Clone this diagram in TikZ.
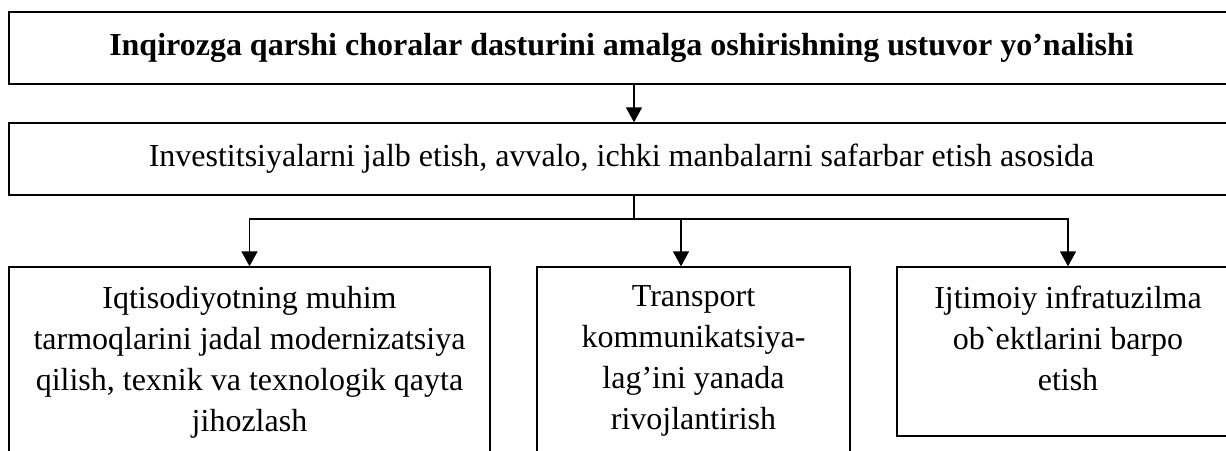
\documentclass[tikz,border=0pt]{standalone}
\usepackage{fontspec}
\setmainfont{Liberation Serif}
\usetikzlibrary{positioning,arrows.meta,fit}

\begin{document}
\begin{tikzpicture}[x=0.5pt,y=-0.5pt]
 \tikzset{box/.style={draw,line width=0.7pt,inner sep=0pt},
   txt/.style={align=center,inner sep=0pt,anchor=north,font=\fontsize{16}{20.5}\selectfont},
   arrow/.style={line width=0.8pt,-{Triangle[width=8pt,length=7.5pt]}}}
 \useasboundingbox (0,0) rectangle (1226,450);
 \clip (0,0) rectangle (1226,450);

 \node[box,fit={(9,12) (1234,84)}] (prio) {};
 \node[box,fit={(9,123) (1234,195)}] (invest) {};
 \node[txt,anchor=center,font=\bfseries\fontsize{16}{20.5}\selectfont] (priot) at (prio.center) {Inqirozga qarshi choralar dasturini amalga oshirishning ustuvor yo’nalishi};
 \node[txt,anchor=center] (investt) at (invest.center) {Investitsiyalarni jalb etish, avvalo, ichki manbalarni safarbar etish asosida};

 \node[box,fit={(9,267) (490,480)}] (modern) {};
 \node[box,fit={(537,267) (850,480)}] (transp) {};
 \node[box,fit={(897,267) (1239,436)}] (social) {};
 \node[txt,yshift=-9.6pt] (modernt) at (modern.north) {Iqtisodiyotning muhim\\tarmoqlarini jadal modernizatsiya\\qilish, texnik va texnologik qayta\\jihozlash};
 \node[txt,yshift=-9.6pt] (transpt) at (transp.north) {Transport\\kommunikatsiya-\\lag’ini yanada\\rivojlantirish};
 \node[txt,yshift=-9.6pt] (socialt) at (social.north) {Ijtimoiy infratuzilma\\ob\textasciigrave ektlarini barpo\\etish};

 \coordinate (bus) at (634,219);
 \coordinate (drop) at (681,219);
 \draw[arrow] (prio.south -| bus) -- (invest.north -| bus);
 \draw[line width=0.8pt] (invest.south -| bus) -- (bus);
 \draw[arrow] (bus) -| (modern.north);
 \draw[arrow] (bus) -| (social.north);
 \draw[arrow] (drop) -- (transp.north -| drop);
\end{tikzpicture}
\end{document}
